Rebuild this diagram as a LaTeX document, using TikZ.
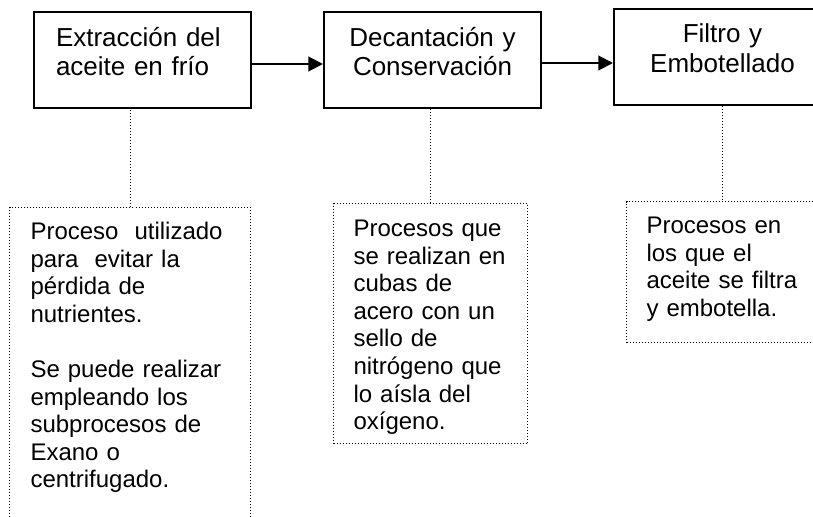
\documentclass[tikz,border=0pt]{standalone}
\usepackage{fontspec}
\setmainfont{Liberation Sans}
\usetikzlibrary{positioning,arrows.meta}

\tikzset{
  stepbox/.style={draw, line width=1.5pt, text width=129.75pt, inner xsep=16.5pt,
    inner ysep=11pt, text height=14.5pt, text depth=35.5pt,
    font=\fontsize{19.5}{22.4}\selectfont},
  notebox/.style={draw, line width=0.75pt, dash pattern=on 0.75pt off 1.5pt,
    inner ysep=11pt, text height=13pt, align=left,
    font=\fontsize{18}{20.7}\selectfont},
  flow/.style={line width=1.5pt, -{Triangle[length=11pt,width=11pt]}},
  link/.style={line width=0.75pt, dash pattern=on 0.75pt off 1.5pt},
}

\begin{document}
\begin{tikzpicture}[x=0.75pt, y=-0.75pt]
    \useasboundingbox (0,0) rectangle (813,517);
    \clip (0,0) rectangle (813,517);

    % Define nodes
    \node[stepbox, align=left, anchor=north west]        (box1) at (33,11) {Extracción del\\aceite en frío};
    \node[stepbox, align=center, right=53.25pt of box1]  (box2) {Decantación y\\Conservación};
    \node[stepbox, align=center, right=53.25pt of box2, yshift=2.25pt] (box3) {Filtro y\\Embotellado};

    \node[notebox, anchor=north west, text width=149.25pt, inner xsep=15.75pt,
          text depth=207.25pt] (note1) at (9,207)
         {Proceso~~utilizado\\para~~evitar la\\pérdida de\\nutrientes.\\[20.7pt]Se puede realizar\\empleando los\\subprocesos de\\Exano o\\centrifugado.};
    \node[notebox, anchor=north west, text width=115.5pt, inner xsep=15pt,
          text height=13.75pt, text depth=144.25pt] (note2) at (333,203)
         {Procesos que\\se realizan en\\cubas de\\acero con un\\sello de\\nitrógeno que\\lo aísla del\\oxígeno.};
    \node[notebox, anchor=north west, text width=140pt, inner xsep=15pt,
          text depth=70.75pt] (note3) at (626,201)
         {Procesos en\\los que el\\aceite se filtra\\y embotella.};

    % Connect the nodes
    \draw[flow] ([yshift=-3pt]box1.east) -- ([yshift=-3pt]box1.east -| box2.west);
    \draw[flow] ([yshift=-2.25pt]box2.east) -- ([yshift=-2.25pt]box2.east -| box3.west);

    \draw[link] (note1.north) -- (note1.north |- box1.south);
    \draw[link] (note2.north) -- (note2.north |- box2.south);
    \draw[link] (box3.south) -- (box3.south |- note3.north);

\end{tikzpicture}
\end{document}
